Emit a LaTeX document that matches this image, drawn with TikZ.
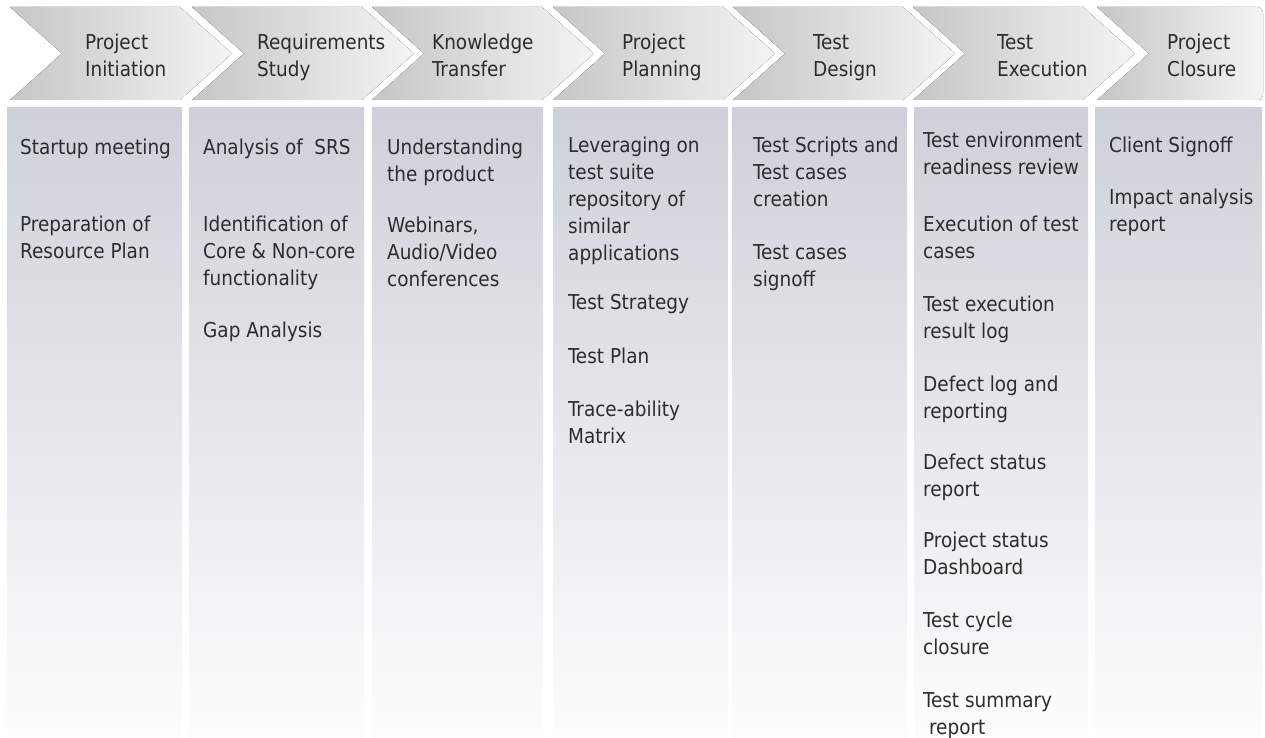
\documentclass[tikz,border=0pt]{standalone}
\usepackage{fontspec}
\setmainfont{DejaVu Sans Condensed}
\definecolor{coltop}{RGB}{206,209,217}
\definecolor{colbot}{RGB}{253,253,253}
\definecolor{chevdark}{RGB}{198,198,198}
\definecolor{chevlight}{RGB}{244,244,244}
\definecolor{ink}{RGB}{45,45,45}
\begin{document}
\begin{tikzpicture}[x=1pt,y=-1pt]
  \tikzstyle{chevron}=[left color=chevdark, right color=chevlight]
  \tikzstyle{column}=[top color=coltop, bottom color=colbot]
  \tikzstyle{phase}=[anchor=north west, inner sep=0pt, align=left, text=ink,
    font=\fontsize{20.5}{27}\selectfont]
  \tikzstyle{task}=[phase]
  \useasboundingbox (0,0) rectangle (1265,738);
  \foreach \l in {10,192,372,553,733,913}
    \fill[chevron] (\l,7) -- (\l+170,7) -- (\l+222,53.5) -- (\l+170,100)
      -- (\l,100) -- (\l+52,53.5) -- cycle;
  \fill[chevron] (1149,53.5) -- (1097,7) -- (1257,7) [rounded corners=6pt]
    -- (1263,7) -- (1263,100) -- (1257,100) [sharp corners] -- (1097,100) -- cycle;
  \foreach \l/\r in {7/182,189/364,372/543,553/728,732/907,914/1088,1095/1262}
    \fill[column] (\l,108) rectangle (\r,738);
  \node[phase] (init) at (85,34) {Project\\Initiation};
  \node[phase] (req) at (257,34) {Requirements\\Study};
  \node[phase] (kt) at (432,34) {Knowledge\\Transfer};
  \node[phase] (plan) at (622,34) {Project\\Planning};
  \node[phase] (design) at (813,34) {Test\\Design};
  \node[phase] (exec) at (997,34) {Test\\Execution};
  \node[phase] (close) at (1167,34) {Project\\Closure};
  \node[task] (init-1) at (20,139) {Startup meeting};
  \node[task] (init-2) at (20,216) {Preparation of\\Resource Plan};
  \node[task] (req-1) at (203,139) {Analysis of \ SRS};
  \node[task] (req-2) at (203,216) {Identification of\\Core \& Non-core\\functionality};
  \node[task] (req-3) at (203,322) {Gap Analysis};
  \node[task] (kt-1) at (387,139) {Understanding\\the product};
  \node[task] (kt-2) at (387,217) {Webinars,\\Audio/Video\\conferences};
  \node[task] (plan-1) at (568,137) {Leveraging on\\test suite\\repository of\\similar\\applications};
  \node[task] (plan-2) at (568,294) {Test Strategy};
  \node[task] (plan-3) at (568,348) {Test Plan};
  \node[task] (plan-4) at (568,401) {Trace-ability\\Matrix};
  \node[task] (design-1) at (753,137) {Test Scripts and\\Test cases\\creation};
  \node[task] (design-2) at (753,244) {Test cases\\signoff};
  \node[task] (exec-1) at (923,132) {Test environment\\readiness review};
  \node[task] (exec-2) at (923,216) {Execution of test\\cases};
  \node[task] (exec-3) at (923,296) {Test execution\\result log};
  \node[task] (exec-4) at (923,376) {Defect log and\\reporting};
  \node[task] (exec-5) at (923,454) {Defect status\\report};
  \node[task] (exec-6) at (923,532) {Project status\\Dashboard};
  \node[task] (exec-7) at (923,612) {Test cycle\\closure};
  \node[task] (exec-8) at (923,692) {Test summary\\\ report};
  \node[task] (close-1) at (1109,137) {Client Signoff};
  \node[task] (close-2) at (1109,189) {Impact analysis\\report};
\end{tikzpicture}
\end{document}
